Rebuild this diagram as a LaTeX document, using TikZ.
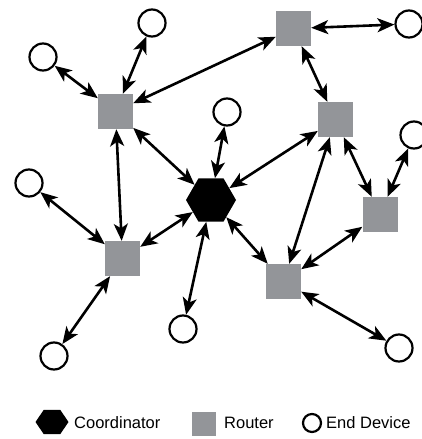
\documentclass[tikz,border=0pt]{standalone}
\usepackage{fontspec}
\setmainfont{Liberation Sans}
\usetikzlibrary{arrows.meta,shapes.geometric,positioning}
\definecolor{routergray}{RGB}{147,149,153}

\begin{document}
\begin{tikzpicture}[x=1pt,y=-1pt,
 coordhex/.style={regular polygon,regular polygon sides=6,fill=black,inner sep=0pt,minimum size=50pt},
 router/.style={rectangle,fill=routergray,inner sep=0pt,minimum size=35pt},
 enddev/.style={circle,draw=black,line width=2.2pt,fill=white,inner sep=0pt,minimum size=27pt},
 link/.style={line width=2.6pt,{Stealth[length=17pt,width=14pt,inset=4.5pt]}-{Stealth[length=17pt,width=14pt,inset=4.5pt]}},
 legtext/.style={anchor=west,inner sep=0pt,font=\fontsize{16.5}{19}\selectfont}]
\useasboundingbox (0,0) rectangle (422,439);
%coordinator
\node[coordhex] (hex) at (211,200) {};
%routers
\node[router] (r1) at (115.5,111.5) {};
\node[router] (rt) at (293.5,28.5) {};
\node[router] (r3) at (335.5,119.5) {};
\node[router] (r5) at (380,214.5) {};
\node[router] (r4) at (283.5,281.5) {};
\node[router] (r2) at (122.5,258.5) {};
%end devices
\node[enddev] (c1) at (43,57) {};
\node[enddev] (c2) at (152,23) {};
\node[enddev] (c3) at (29,183) {};
\node[enddev] (c4) at (227,112) {};
\node[enddev] (c5) at (409,24) {};
\node[enddev] (c6) at (414,135) {};
\node[enddev] (c7) at (54,356) {};
\node[enddev] (c8) at (183,329) {};
\node[enddev] (c9) at (399,348) {};
%links
\draw[link] (c1) -- (r1); \draw[link] (c2) -- (r1);
\draw[link] (r1) -- (rt); \draw[link] (r1) -- (hex); \draw[link] (r1) -- (r2);
\draw[link] (c3) -- (r2); \draw[link] (r2) -- (hex); \draw[link] (r2) -- (c7);
\draw[link] (hex) -- (c8); \draw[link] (hex) -- (c4);
\draw[link] (hex) -- (r3); \draw[link] (hex) -- (r4);
\draw[link] (rt) -- (c5); \draw[link] (rt) -- (r3);
\draw[link] (r3) -- (r5); \draw[link] (r3) -- (r4);
\draw[link] (c6) -- (r5); \draw[link] (r5) -- (r4); \draw[link] (r4) -- (c9);
%legend
\node[coordhex,minimum size=33pt,yscale=.85] (leghex) at (52,422) {};
\node[legtext] (legcoord) at (74,423) {Coordinator};
\node[router,minimum size=24pt] (legrouter) at (204,424) {};
\node[legtext] (legrt) at (224,423) {Router};
\node[enddev,minimum size=18pt] (legdev) at (312,423) {};
\node[legtext] (legend) at (326,423) {End Device};
\end{tikzpicture}
\end{document}
